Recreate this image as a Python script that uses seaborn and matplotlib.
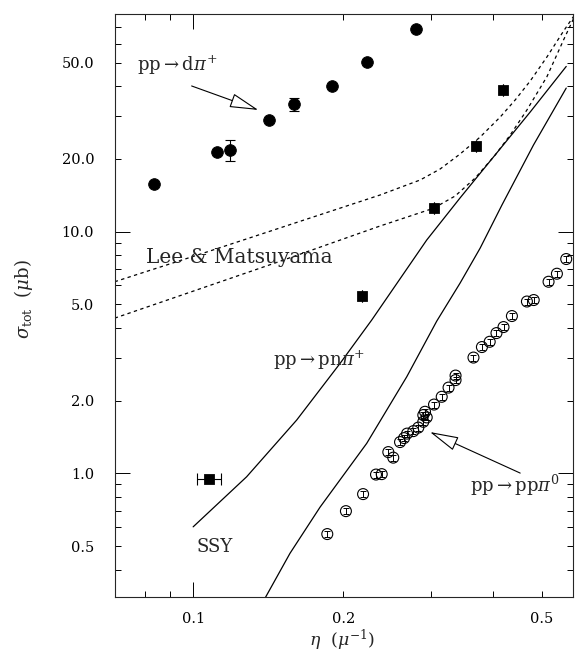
import numpy as np
import pandas as pd
import matplotlib
matplotlib.use("Agg")
import matplotlib.pyplot as plt
from matplotlib.ticker import FixedLocator, FuncFormatter
import seaborn as sns

# ---- measured cross sections ----
# pp -> d pi+
dpi_eta = [0.0835, 0.1114, 0.1185, 0.1419, 0.1595, 0.190, 0.2236, 0.280]
dpi_sig = [15.75, 21.3, 21.8, 29.0, 33.7, 40.1, 50.5, 68.8]
dpi_err = [0.0, 0.0, 2.1, 0.0, 2.2, 0.0, 0.0, 0.0]

# pp -> p n pi+
pn_eta = [0.1077, 0.2185, 0.304, 0.370, 0.418]
pn_sig = [0.950, 5.43, 12.5, 22.7, 38.5]
pn_xerr = [0.0061, 0.0, 0.0, 0.0, 0.0]

# pp -> p p pi0
pp0_eta = [0.1858, 0.2025, 0.2192, 0.2327, 0.2389, 0.2463, 0.2520, 0.2600,
           0.2649, 0.2686, 0.2765, 0.2829, 0.2895, 0.2941, 0.2895, 0.2918,
           0.3042, 0.3152, 0.3253, 0.3360, 0.3360, 0.3650, 0.3795, 0.3934,
           0.4059, 0.4193, 0.4359, 0.4672, 0.4821, 0.5163, 0.5366, 0.5602]
pp0_sig = [0.561, 0.698, 0.821, 0.989, 0.993, 1.225, 1.162, 1.348,
           1.400, 1.461, 1.496, 1.547, 1.635, 1.705, 1.743, 1.799,
           1.927, 2.075, 2.265, 2.433, 2.540, 3.015, 3.333, 3.505,
           3.807, 4.032, 4.478, 5.143, 5.216, 6.209, 6.702, 7.709]
pp0_err = [0.016, 0.020, 0.024, 0.029, 0.029, 0.036, 0.034, 0.039,
           0.041, 0.042, 0.043, 0.045, 0.047, 0.049, 0.051, 0.052,
           0.056, 0.060, 0.066, 0.071, 0.074, 0.087, 0.097, 0.102,
           0.110, 0.117, 0.130, 0.149, 0.151, 0.180, 0.194, 0.224]

# ---- model curves ----
# SSY, pp -> p n pi+
ssy_pn_eta = [0.100, 0.128, 0.1613, 0.1971, 0.2281, 0.2941, 0.3431, 0.3943, 0.4744, 0.5602]
ssy_pn_sig = [0.601, 0.968, 1.662, 2.852, 4.310, 9.24, 13.80, 19.62, 31.3, 48.3]
# SSY, pp -> p p pi0
ssy_pp_eta = [0.1393, 0.1564, 0.1797, 0.2229, 0.2682, 0.3081, 0.3431, 0.3765, 0.4163, 0.4816, 0.5602]
ssy_pp_sig = [0.304, 0.467, 0.725, 1.331, 2.511, 4.27, 6.13, 8.56, 12.9, 22.85, 39.3]
# Lee & Matsuyama (two variants)
lm1_eta = [0.0696, 0.1080, 0.1715, 0.2371, 0.2853, 0.3128, 0.3431, 0.3765,
           0.4130, 0.4426, 0.4744, 0.5124, 0.5534, 0.5840]
lm1_sig = [6.21, 8.32, 11.39, 14.19, 16.37, 18.17, 20.97, 24.66,
           29.83, 35.1, 42.05, 52.85, 67.7, 79.6]
lm2_eta = [0.0696, 0.1459, 0.2371, 0.3034, 0.3353, 0.3680, 0.4035, 0.4325,
           0.4672, 0.5124, 0.5534, 0.5840]
lm2_sig = [4.39, 7.42, 10.56, 12.50, 14.05, 16.69, 20.77, 25.13,
           31.9, 43.8, 62.2, 78.9]

sns.set_style("ticks")
plt.rcParams["font.family"] = ["DejaVu Serif"]
plt.rcParams["mathtext.fontset"] = "dejavuserif"
plt.rcParams["axes.linewidth"] = 0.8

fig = plt.figure(figsize=(5.76, 6.54), dpi=100)
ax = fig.add_axes([115 / 576, 1 - 597 / 654, 458 / 576, 583 / 654])
ax.set_xscale("log")
ax.set_yscale("log")

lw = 0.9
sns.lineplot(x=ssy_pn_eta, y=ssy_pn_sig, ax=ax, color="black", lw=lw, sort=False)
sns.lineplot(x=ssy_pp_eta, y=ssy_pp_sig, ax=ax, color="black", lw=lw, sort=False)
for xe, ye in ((lm1_eta, lm1_sig), (lm2_eta, lm2_sig)):
    sns.lineplot(x=xe, y=ye, ax=ax, color="black", lw=lw, sort=False,
                 dashes=False, linestyle=(0, (2.7, 2.7)))

# error bars
ax.errorbar(dpi_eta, dpi_sig, yerr=dpi_err, fmt="none", ecolor="black",
            elinewidth=0.8, capsize=3.5, capthick=0.8)
ax.errorbar(pn_eta, pn_sig, xerr=pn_xerr, fmt="none", ecolor="black",
            elinewidth=0.8, capsize=4, capthick=0.8)
ax.errorbar(pp0_eta, pp0_sig, yerr=pp0_err, fmt="none", ecolor="black",
            elinewidth=0.7, capsize=2, capthick=0.7)

sns.scatterplot(x=dpi_eta, y=dpi_sig, ax=ax, marker="o", s=70,
                color="black", edgecolor="black", zorder=3)
sns.scatterplot(x=pn_eta, y=pn_sig, ax=ax, marker="s", s=52,
                color="black", edgecolor="black", zorder=3)
sns.scatterplot(x=pp0_eta, y=pp0_sig, ax=ax, marker="o", s=62,
                facecolor="none", edgecolor="black", linewidth=0.8, zorder=3)

ax.set_xlim(0.0697, 0.578)
ax.set_ylim(0.308, 79.6)

# ticks
ax.xaxis.set_major_locator(FixedLocator([0.1]))
ax.xaxis.set_minor_locator(FixedLocator([0.08, 0.09, 0.2, 0.3, 0.4, 0.5]))
ax.yaxis.set_major_locator(FixedLocator([1.0, 10.0]))
ymin = [m * d for d in (0.1, 1.0, 10.0) for m in range(2, 10)]
ax.yaxis.set_minor_locator(FixedLocator(ymin))

x_lab = {0.1: "0.1", 0.2: "0.2", 0.5: "0.5"}
y_lab = {0.5: "0.5", 1.0: "1.0", 2.0: "2.0", 5.0: "5.0",
         10.0: "10.0", 20.0: "20.0", 50.0: "50.0"}


def pick(table):
    def f(v, pos):
        for k, s in table.items():
            if abs(v - k) / k < 1e-6:
                return s
        return ""
    return FuncFormatter(f)


ax.xaxis.set_major_formatter(pick(x_lab))
ax.xaxis.set_minor_formatter(pick(x_lab))
ax.yaxis.set_major_formatter(pick(y_lab))
ax.yaxis.set_minor_formatter(pick(y_lab))

ax.tick_params(which="both", direction="in", top=True, right=True,
               width=0.7, labelsize=10.5, colors="black")
ax.tick_params(which="major", length=11)
ax.tick_params(which="minor", length=4.5)
ax.tick_params(axis="y", which="both", pad=15)
ax.tick_params(axis="x", which="both", pad=11)

ax.set_xlabel(r"$\eta$  ($\mu^{-1}$)", fontsize=12.5)
ax.set_ylabel(r"$\sigma_{\rm tot}$  ($\mu$b)", fontsize=13)
ax.xaxis.set_label_coords(0.496, -0.074)
ax.xaxis.label.set_va("center")
ax.yaxis.set_label_coords(-0.199, 0.511)
ax.yaxis.label.set_va("center")

# annotations
tfs = 13
ax.text(0.0770, 49.0, r"pp$\rightarrow$d$\pi^{+}$", fontsize=tfs, va="center", ha="left")
ax.text(0.0806, 7.83, "Lee & Matsuyama", fontsize=14.5, va="center", ha="left")
ax.text(0.1448, 2.94, r"pp$\rightarrow$pn$\pi^{+}$", fontsize=tfs, va="center", ha="left")
ax.text(0.1016, 0.497, "SSY", fontsize=tfs, va="center", ha="left")
ax.text(0.3594, 0.895, r"pp$\rightarrow$pp$\pi^{0}$", fontsize=tfs, va="center", ha="left")

arrow = dict(arrowstyle="-|>,head_length=1.4,head_width=0.35", fc="white",
             ec="black", lw=0.8, mutation_scale=13, shrinkA=0, shrinkB=0)
ax.annotate("", xy=(0.1351, 31.9), xytext=(0.0993, 40.1), arrowprops=arrow)
ax.annotate("", xy=(0.2986, 1.483), xytext=(0.4529, 1.003), arrowprops=arrow)

for s in ax.spines.values():
    s.set_visible(True)
    s.set_linewidth(0.8)

fig.savefig("out.png", dpi=100)
